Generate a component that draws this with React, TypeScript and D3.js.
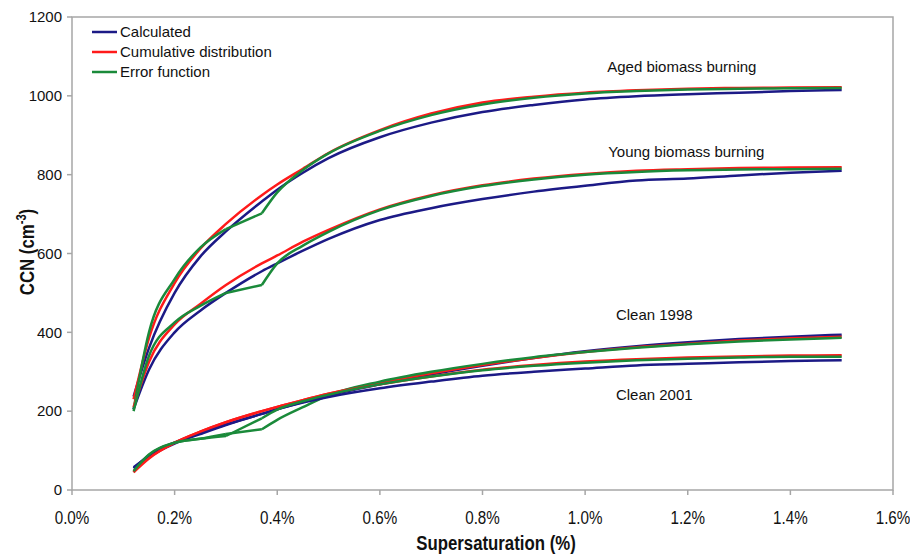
import React from "react";
import * as d3 from "d3";

const supersat = [0.12, 0.15, 0.2, 0.25, 0.3, 0.37, 0.4, 0.45, 0.5, 0.6, 0.7, 0.8, 0.9, 1.0, 1.1, 1.2, 1.3, 1.4, 1.5];

const agedCalc = [237, 360, 500, 592, 656, 732, 762, 805, 842, 895, 932, 959, 977, 991, 999, 1004, 1008, 1012, 1015];
const agedCum = [230, 385, 525, 612, 675, 748, 775, 815, 855, 913, 955, 983, 998, 1008, 1014, 1018, 1020, 1021, 1022];
const agedErf = [205, 400, 535, 615, 662, 702, 755, 812, 854, 911, 951, 978, 995, 1006, 1012, 1016, 1018, 1019, 1020];

const youngCalc = [205, 305, 400, 455, 500, 555, 575, 607, 637, 685, 715, 738, 757, 772, 785, 790, 798, 805, 810];
const youngCum = [210, 325, 420, 472, 520, 575, 595, 630, 660, 712, 748, 773, 790, 802, 810, 814, 817, 818, 819];
const youngErf = [200, 340, 425, 467, 500, 520, 575, 620, 655, 710, 746, 771, 788, 800, 807, 811, 813, 814, 815];

const clean98Calc = [58, 85, 118, 142, 165, 193, 205, 223, 240, 268, 293, 315, 335, 352, 365, 375, 383, 389, 394];
const clean98Cum = [48, 82, 120, 148, 172, 200, 211, 228, 244, 272, 296, 317, 335, 350, 362, 371, 379, 385, 389];
const clean98Erf = [45, 88, 120, 130, 142, 154, 178, 210, 240, 275, 300, 320, 337, 350, 361, 370, 377, 382, 386];

const clean01Calc = [55, 88, 120, 145, 166, 193, 205, 222, 236, 258, 275, 290, 300, 308, 316, 320, 324, 327, 329];
const clean01Cum = [45, 80, 120, 148, 172, 200, 211, 228, 244, 268, 288, 305, 317, 326, 332, 336, 339, 341, 342];
const clean01Erf = [48, 90, 120, 130, 137, 182, 204, 225, 242, 268, 288, 304, 315, 323, 329, 333, 336, 338, 338];

const erfBreaks = [0.3, 0.37];

const xTicks = [0, 0.2, 0.4, 0.6, 0.8, 1.0, 1.2, 1.4, 1.6];
const yTicks = [0, 200, 400, 600, 800, 1000, 1200];

const legendNames = ["Calculated", "Cumulative distribution", "Error function"];
const colors = ["#1c1a86", "#ff1a1a", "#1a8a3a"];

const groupLabels = ["Aged biomass burning", "Young biomass burning", "Clean 1998", "Clean 2001"];
const groupLabelPos = [[1.043, 1060], [1.045, 845], [1.06, 432], [1.06, 228]];

const groups = [
  [agedCalc, agedCum, agedErf],
  [youngCalc, youngCum, youngErf],
  [clean98Calc, clean98Cum, clean98Erf],
  [clean01Calc, clean01Cum, clean01Erf],
];

const W = 910, H = 555;
const left = 72, right = 893, top = 17, bottom = 490;
const font = "'Liberation Sans', Arial, sans-serif";
const narrowScale = 0.8;

export default function App() {
  const x = d3.scaleLinear().domain([0, 1.6]).range([left, right]);
  const y = d3.scaleLinear().domain([0, 1200]).range([bottom, top]);
  const line = d3
    .line<[number, number]>()
    .x((d) => x(d[0]))
    .y((d) => y(d[1]))
    .curve(d3.curveMonotoneX);

  const pts = (vals: number[]) => supersat.map((s, i) => [s, vals[i]] as [number, number]);

  const splitAt = (p: [number, number][]) => {
    const segs: [number, number][][] = [];
    let cur: [number, number][] = [];
    p.forEach((d) => {
      cur.push(d);
      if (erfBreaks.some((b) => Math.abs(b - d[0]) < 1e-9)) {
        segs.push(cur);
        cur = [d];
      }
    });
    if (cur.length > 1) segs.push(cur);
    return segs;
  };

  const axisColor = "#a6a6a6";

  return (
    <svg width={W} height={H} style={{ position: "absolute", left: 0, top: 0, background: "#fff" }}>
      <rect x={left} y={top} width={right - left} height={bottom - top} fill="none" stroke={axisColor} strokeWidth={1.5} />
      {yTicks.map((t) => (
        <g key={"y" + t}>
          <line x1={left - 5} x2={left} y1={y(t)} y2={y(t)} stroke={axisColor} strokeWidth={1.5} />
          <text x={left - 10} y={y(t)} dy="0.35em" textAnchor="end" fontFamily={font} fontSize={15} fill="#111">
            {t}
          </text>
        </g>
      ))}
      {xTicks.map((t) => (
        <g key={"x" + t}>
          <line x1={x(t)} x2={x(t)} y1={bottom} y2={bottom + 5} stroke={axisColor} strokeWidth={1.5} />
          <text
            transform={`translate(${x(t)},517) scale(${narrowScale},1)`}
            dy="0.35em"
            textAnchor="middle"
            fontFamily={font}
            fontSize={19}
            fill="#111"
          >
            {t.toFixed(1) + "%"}
          </text>
        </g>
      ))}
      <text
        transform={`translate(496,550) scale(${narrowScale},1)`}
        textAnchor="middle"
        fontFamily={font}
        fontSize={21}
        fontWeight="bold"
        fill="#111"
      >
        Supersaturation (%)
      </text>
      <text
        transform={`translate(34,252) rotate(-90) scale(${narrowScale},1)`}
        textAnchor="middle"
        fontFamily={font}
        fontSize={21}
        fontWeight="bold"
        fill="#111"
      >
        CCN (cm
        <tspan dy={-8} fontSize={14}>-3</tspan>
        <tspan dy={8}>)</tspan>
      </text>
      {groups.map((g, gi) => (
        <g key={"g" + gi}>
          {g.map((vals, si) => {
            const p = pts(vals);
            const segs = si === 2 ? splitAt(p) : [p];
            return segs.map((seg, k) => (
              <path
                key={gi + "-" + si + "-" + k}
                d={line(seg) || ""}
                fill="none"
                stroke={colors[si]}
                strokeWidth={2.5}
                strokeLinejoin="round"
              />
            ));
          })}
        </g>
      ))}
      {groupLabels.map((l, i) => (
        <text key={l} x={x(groupLabelPos[i][0])} y={y(groupLabelPos[i][1])} fontFamily={font} fontSize={15} fill="#111">
          {l}
        </text>
      ))}
      {legendNames.map((n, i) => (
        <g key={n}>
          <line x1={92} x2={117} y1={32 + i * 20} y2={32 + i * 20} stroke={colors[i]} strokeWidth={2.5} />
          <text x={120} y={32 + i * 20} dy="0.35em" fontFamily={font} fontSize={15} fill="#111">
            {n}
          </text>
        </g>
      ))}
    </svg>
  );
}
